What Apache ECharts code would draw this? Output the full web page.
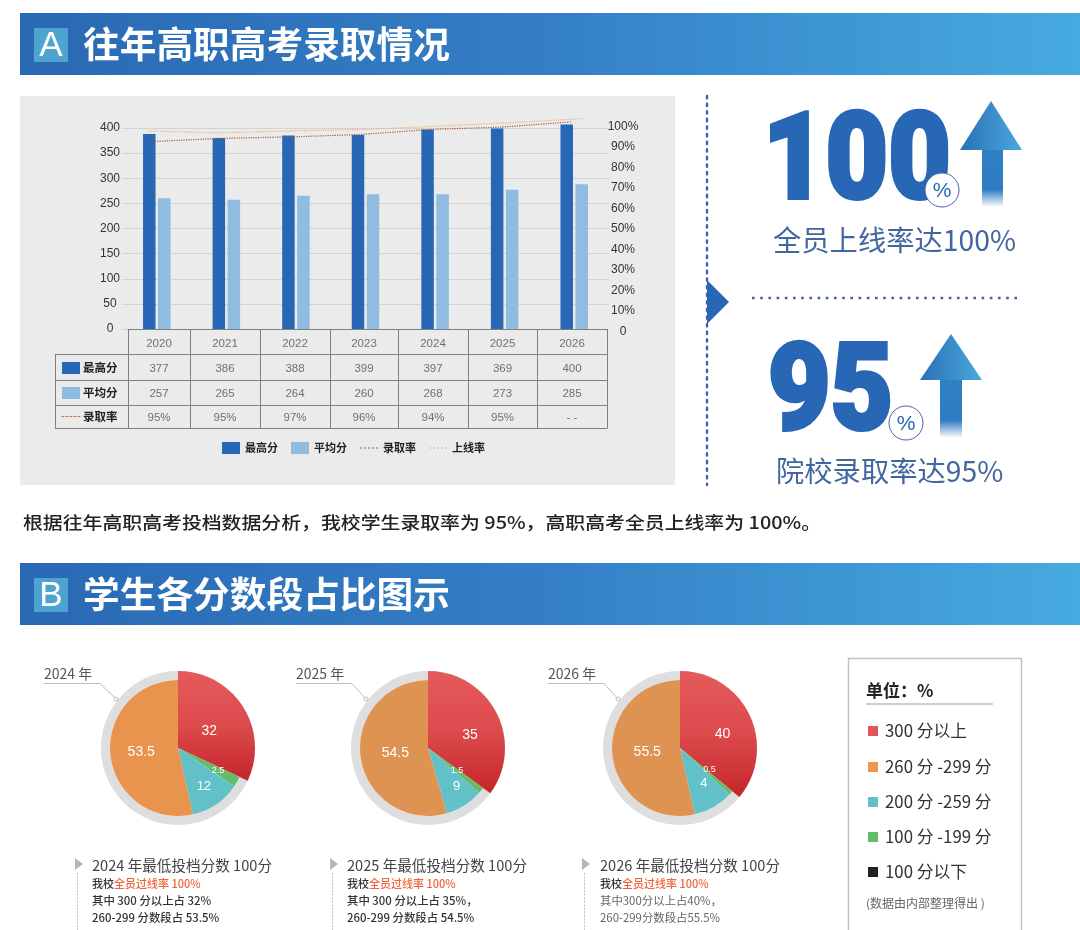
<!DOCTYPE html>
<html><head><meta charset="utf-8">
<style>html,body{margin:0;padding:0;background:#fff}#c{width:1080px;height:930px}</style>
<script src="https://cdn.jsdelivr.net/npm/echarts@6/dist/echarts.min.js"></script>
</head><body><div id="c"></div>
<script>
// ---- values ----
const years = ['2020','2021','2022','2023','2024','2025','2026'];
const barTop = [388,380,385,386,397,399,407];
const barAvg = [260,257,265,268,268,277,288];
const lineAdmit = [92.7,94.3,95,96.2,98.7,99.8,102.4];
const lineOnline = [97.9,97,98,98.7,100.3,102,104];
const tableTop = ['377','386','388','399','397','369','400'];
const tableAvg = ['257','265','264','260','268','273','285'];
const tableRate = ['95%','95%','97%','96%','94%','95%','- -'];
const seriesNames = ['最高分','平均分','录取率','上线率'];
const pieYears = ['2024 年','2025 年','2026 年'];
const sliceNames = ['300 分以上','100 分 -199 分','200 分 -259 分','260 分 -299 分'];
const slices2024 = [32,2.5,12,53.5];
const slices2025 = [35,1.5,9,54.5];
const slices2026 = [36,1,9.5,53.5];   // arcs as drawn
const printed2024 = ['32','2.5','12','53.5'];
const printed2025 = ['35','1.5','9','54.5'];
const printed2026 = ['40','0.5','4','55.5'];
const noteTitles = ['2024 年最低投档分数 100分','2025 年最低投档分数 100分','2026 年最低投档分数 100分'];
const noteLine3 = ['其中 300 分以上占 32%','其中 300 分以上占 35%，','其中300分以上占40%，'];
const noteLine4 = ['260-299 分数段占 53.5%','260-299 分数段占 54.5%','260-299分数段占55.5%'];
const legendLabels = ['300 分以上','260 分 -299 分','200 分 -259 分','100 分 -199 分','100 分以下'];
const legendColors = ['#e4555a','#ea9650','#62c0c9','#66bb6a','#222222'];

// ---- layout ----
const CJK = '"Noto Sans CJK SC","Noto Sans",sans-serif';
const LATIN = '"Liberation Sans",sans-serif';
const BLUE = '#2767b5';
const g = [];
const txt = (x,y,text,o={}) => g.push({type:'text',x,y,z:o.z||5,silent:true,scaleX:o.scaleX||1,style:Object.assign({
  text,fill:o.fill||'#333',font:`${o.weight||'normal'} ${o.size||12}px ${o.family||CJK}`,
  align:o.align||'left',verticalAlign:'middle'},o.style||{})});
const line = (x1,y1,x2,y2,stroke,lineWidth=1,dash,z=4) => g.push({type:'line',z,silent:true,
  shape:{x1,y1,x2,y2},style:{stroke,lineWidth,lineDash:dash||null,lineCap:dash&&dash[0]<2.5?'round':'butt'}});
const rect = (x,y,w,h,fill,o={}) => g.push({type:'rect',z:o.z===undefined?1:o.z,silent:true,shape:{x,y,width:w,height:h},style:Object.assign({fill},o.style||{})});
const poly = (points,fill,z=3) => g.push({type:'polygon',z,silent:true,shape:{points},style:{fill}});
const grad = (x0,y0,x1,y1,stops) => new echarts.graphic.LinearGradient(x0,y0,x1,y1,stops.map((c,i)=>({offset:c[0],color:c[1]})));

// headers
const header = (y,letter,title) => {
  rect(20,y,1060,62,grad(0,0,1,0,[[0,'#2a69b4'],[0.5,'#347fc6'],[1,'#46aae0']]));
  rect(34,y+15,34,34,'#4fa3d1',{z:2});
  txt(51,y+33,letter,{fill:'#fff',size:35,align:'center',family:LATIN});
  txt(83,y+31,title,{fill:'#fff',size:36.7,weight:'bold'});
};
header(13,'A','往年高职高考录取情况');
header(563,'B','学生各分数段占比图示');

// chart panel
rect(20,96,655,389,'#ebebeb',{z:0});

// table
const colX = [128,190,260,330,398,468,537,607];
const rowY = [329,354,380,405,428];
const tc = '#808080';
line(128,329.5,607,329.5,tc);
for (let r=1;r<rowY.length;r++) line(55,rowY[r]+.5,607,rowY[r]+.5,tc);
colX.forEach(x=>line(x+.5,329,x+.5,428.5,tc));
line(55.5,354,55.5,428.5,tc);
const cell = (arr,y)=>arr.forEach((v,i)=>txt((colX[i]+colX[i+1])/2,y,v,{align:'center',fill:'#707070',family:LATIN,size:11.5}));
cell(years,344); cell(tableTop,369); cell(tableAvg,394); cell(tableRate,418);
rect(62,362,18,12,'#2767b5',{z:3}); rect(62,387,18,12,'#8fbce0',{z:3});
line(62,416.5,80,416.5,'#b5734f',1,[2,2]);
txt(83,368,seriesNames[0],{size:11.5,weight:'bold',fill:'#222'});
txt(83,393,seriesNames[1],{size:11.5,weight:'bold',fill:'#222'});
txt(83,417,seriesNames[2],{size:11.5,weight:'bold',fill:'#222'});

// right column decoration
line(707,96,707,485,'#3f62ad',2.4,[2.4,5.2]);
poly([[707,280],[729,302],[707,324]],BLUE);
line(752,298,1019,298,'#3f62ad',2.6,[2.6,5.6]);
const big = (x,y,t)=>txt(x,y,t,{size:120,weight:'900',family:'Roboto,sans-serif',fill:BLUE,z:3,scaleX:0.9,
  style:{stroke:BLUE,lineWidth:4,lineJoin:'round'}});
big(763,168,'100'); big(768,399,'95');
const pct = (cx,cy)=>{
  g.push({type:'circle',z:6,silent:true,shape:{cx,cy,r:17},style:{fill:'#fff',stroke:'#4c5fb0',lineWidth:1}});
  txt(cx,cy+1,'%',{size:21,align:'center',fill:BLUE,z:7,family:LATIN});
};
pct(942,190); pct(906,423);
const arrow = (tx,ty,headY,hw,sx,sw,bottom)=>{
  g.push({type:'rect',z:3,silent:true,shape:{x:sx,y:headY-1,width:sw,height:bottom-headY+1},
    style:{fill:grad(0,0,0,1,[[0,'#2e80c4'],[0.7,'#2f7cc2'],[1,'#ffffff']])}});
  g.push({type:'polygon',z:4,silent:true,shape:{points:[[tx,ty],[tx+hw,headY],[tx-hw,headY]]},
    style:{fill:grad(0,0,1,0,[[0,'#2a6fb6'],[1,'#4aa9dd']])}});
};
arrow(991,101,150,31,982,21,207);
arrow(951,334,380,31,940,22,438);
txt(773,240,'全员上线率达100%',{size:28.3,fill:'#42679f'});
txt(776,471,'院校录取率达95%',{size:28.3,fill:'#42679f'});

// sentence
txt(23,522,'根据往年高职高考投档数据分析，我校学生录取率为 95%，高职高考全员上线率为 100%。',{size:17.5,weight:'500',fill:'#222',scaleX:1.135});

// pie captions & notes
const centers = [[178,748],[428,748],[680,748]];
const capX = [44,296,548];
const noteX = [92,347,600];
const arrowX = [75,330,582];
pieYears.forEach((t,i)=>{
  const c = centers[i];
  txt(capX[i],674,t,{size:14,fill:'#555'});
  line(capX[i],683.5,capX[i]+56,683.5,'#bcbcbc',1);
  line(capX[i]+56,683.5,c[0]-62,699,'#bcbcbc',1);
  g.push({type:'circle',z:8,silent:true,shape:{cx:c[0]-62,cy:699,r:2},style:{fill:'#fff',stroke:'#bdbdbd',lineWidth:1}});
  const nx = noteX[i], ax = arrowX[i];
  poly([[ax,858],[ax+8,864],[ax,870]],'#b5b5b5');
  line(ax+2.5,873,ax+2.5,930,'#c4c4c4',1,[1.5,2]);
  txt(nx,865,noteTitles[i],{size:14.6,fill:'#444'});
  txt(nx,884,'{a|我校}{b|全员过线率 100%}',{size:11,style:{rich:{
    a:{fill:'#333',font:`500 11px ${CJK}`},b:{fill:'#f0643a',font:`500 11px ${CJK}`}}}});
  txt(nx,901,noteLine3[i],{size:11.4,weight:i<2?'500':'normal',fill:i<2?'#333':'#666'});
  txt(nx,918,noteLine4[i],{size:11.4,weight:i<2?'500':'normal',fill:i<2?'#333':'#666'});
});

// unit legend box
rect(848.5,658.5,173,280,'#fff',{z:1,style:{stroke:'#c2c2c2',lineWidth:1.5}});
txt(866,691,'单位：%',{size:17,weight:'bold',fill:'#222'});
line(866,704,993,704,'#cfcfcf',2);
const legendY = [731,767,802,837,872];
legendLabels.forEach((t,i)=>{
  rect(868,legendY[i]-5,10,10,legendColors[i],{z:3});
  txt(885,legendY[i],t,{size:16.8,fill:'#333'});
});
txt(866,903,'(数据由内部整理得出 )',{size:12,fill:'#666'});

// pies
const redGrad = ()=>grad(0,0,0,1,[[0,'#e65a5c'],[0.5,'#dc4a4c'],[1,'#c4262a']]);
const sliceColors = [null,'#66bb6a','#62c0c9','#e5944f'];
const pieSeries = (center,values,printed,orange,nudge)=>{
  const named = (fn)=>values.map((v,i)=>Object.assign({name:sliceNames[i],value:v},fn(i)));
  const base = {type:'pie',center,silent:true,startAngle:90,animation:false,avoidLabelOverlap:false,labelLine:{show:false},label:{show:false},emphasis:{disabled:true}};
  const lab = (i,size)=>({show:true,position:'inside',formatter:printed[i],color:'#fff',fontSize:size,fontFamily:LATIN,offset:nudge[i]});
  return [
    Object.assign({},base,{radius:[68,77],z:2,data:[{name:'环',value:1,itemStyle:{color:'#dedede'}}]}),
    Object.assign({},base,{radius:[0,77],z:2,data:named(i=>({itemStyle:{color:i===0?redGrad():'transparent'}}))}),
    Object.assign({},base,{radius:[0,68],z:3,data:named(i=>({
      itemStyle:{color:i===0?'transparent':(i===3?orange:sliceColors[i])},
      label:(i===0||i===3)?lab(i,14):{show:false}}))}),
    Object.assign({},base,{radius:[0,86],z:4,data:named(i=>({
      itemStyle:{color:'transparent'},
      label:i===1?lab(i,9):(i===2?lab(i,13):{show:false})}))})
  ];
};

const dots = 'M0,0h.01v.01zM0,12h.01v.01zM0,5.6h2v.9h-2zM4,5.6h2v.9h-2zM8,5.6h2v.9h-2zM12,5.6h2v.9h-2zM16,5.6h2v.9h-2z';
const hiddenX = i=>({type:'category',gridIndex:i,data:years,boundaryGap:i===0,axisLine:{show:false},axisTick:{show:false},axisLabel:{show:false}});
const option = {
  backgroundColor:'#fff',
  animation:false,
  graphic:{elements:g},
  legend:{left:222,top:442,padding:0,itemWidth:18,itemHeight:12,itemGap:13,selectedMode:false,
    data:[{name:seriesNames[0],icon:'rect'},{name:seriesNames[1],icon:'rect'},
          {name:seriesNames[2],icon:'path://'+dots},{name:seriesNames[3],icon:'path://'+dots}],
    textStyle:{fontFamily:CJK,fontSize:11,fontWeight:'bold',color:'#222'}},
  grid:[
    {left:122,width:487,top:128,height:201},
    {left:148,width:437,top:126.7,height:204.6},
    {left:150,width:422,top:126.7,height:204.6}
  ],
  xAxis:[hiddenX(0),hiddenX(1),hiddenX(2)],
  yAxis:[
    {type:'value',gridIndex:0,min:0,max:400,interval:50,axisLine:{show:false},axisTick:{show:false},
      axisLabel:{align:'center',margin:12,fontFamily:LATIN,fontSize:12,color:'#333'},
      splitLine:{lineStyle:{color:'#d3d3d3',width:1}}},
    {type:'value',gridIndex:1,position:'right',min:0,max:100,interval:10,axisLine:{show:false},axisTick:{show:false},
      axisLabel:{align:'center',margin:38,fontFamily:LATIN,fontSize:12,color:'#333',formatter:v=>v===0?'0':v+'%'},
      splitLine:{show:false}},
    {type:'value',gridIndex:2,min:0,max:100,interval:10,show:false}
  ],
  series:[
    {name:seriesNames[0],type:'bar',xAxisIndex:0,yAxisIndex:0,data:barTop,barWidth:12.5,barGap:'20%',clip:false,itemStyle:{color:'#2767b5'},z:3},
    {name:seriesNames[1],type:'bar',xAxisIndex:0,yAxisIndex:0,data:barAvg,barWidth:12.5,barGap:'20%',clip:false,itemStyle:{color:'#8fbce0'},z:3},
    {name:seriesNames[2],type:'line',xAxisIndex:2,yAxisIndex:2,data:lineAdmit,symbol:'none',clip:false,z:5,
      itemStyle:{color:'#a85a3c'},lineStyle:{color:'#a85a3c',width:1.2,type:'dotted'}},
    {name:seriesNames[3],type:'line',xAxisIndex:1,yAxisIndex:1,data:lineOnline,symbol:'none',clip:false,z:4,
      itemStyle:{color:'#eab27a'},lineStyle:{color:'#eab27a',width:1.2,type:'dotted'}},
    ...pieSeries(centers[0],slices2024,printed2024,'#e8934e',[[0,3],[0,0],[0,0],[0,0]]),
    ...pieSeries(centers[1],slices2025,printed2025,'#de9352',[[9,4],[-7,-6],[4,0],[4,0]]),
    ...pieSeries(centers[2],slices2026,printed2026,'#de9352',[[9,2],[-5,-9],[1,-5],[4,0]])
  ]
};
const chart = echarts.init(document.getElementById('c'),null,{renderer:'canvas',width:1080,height:930});
chart.setOption(option);
</script></body></html>
